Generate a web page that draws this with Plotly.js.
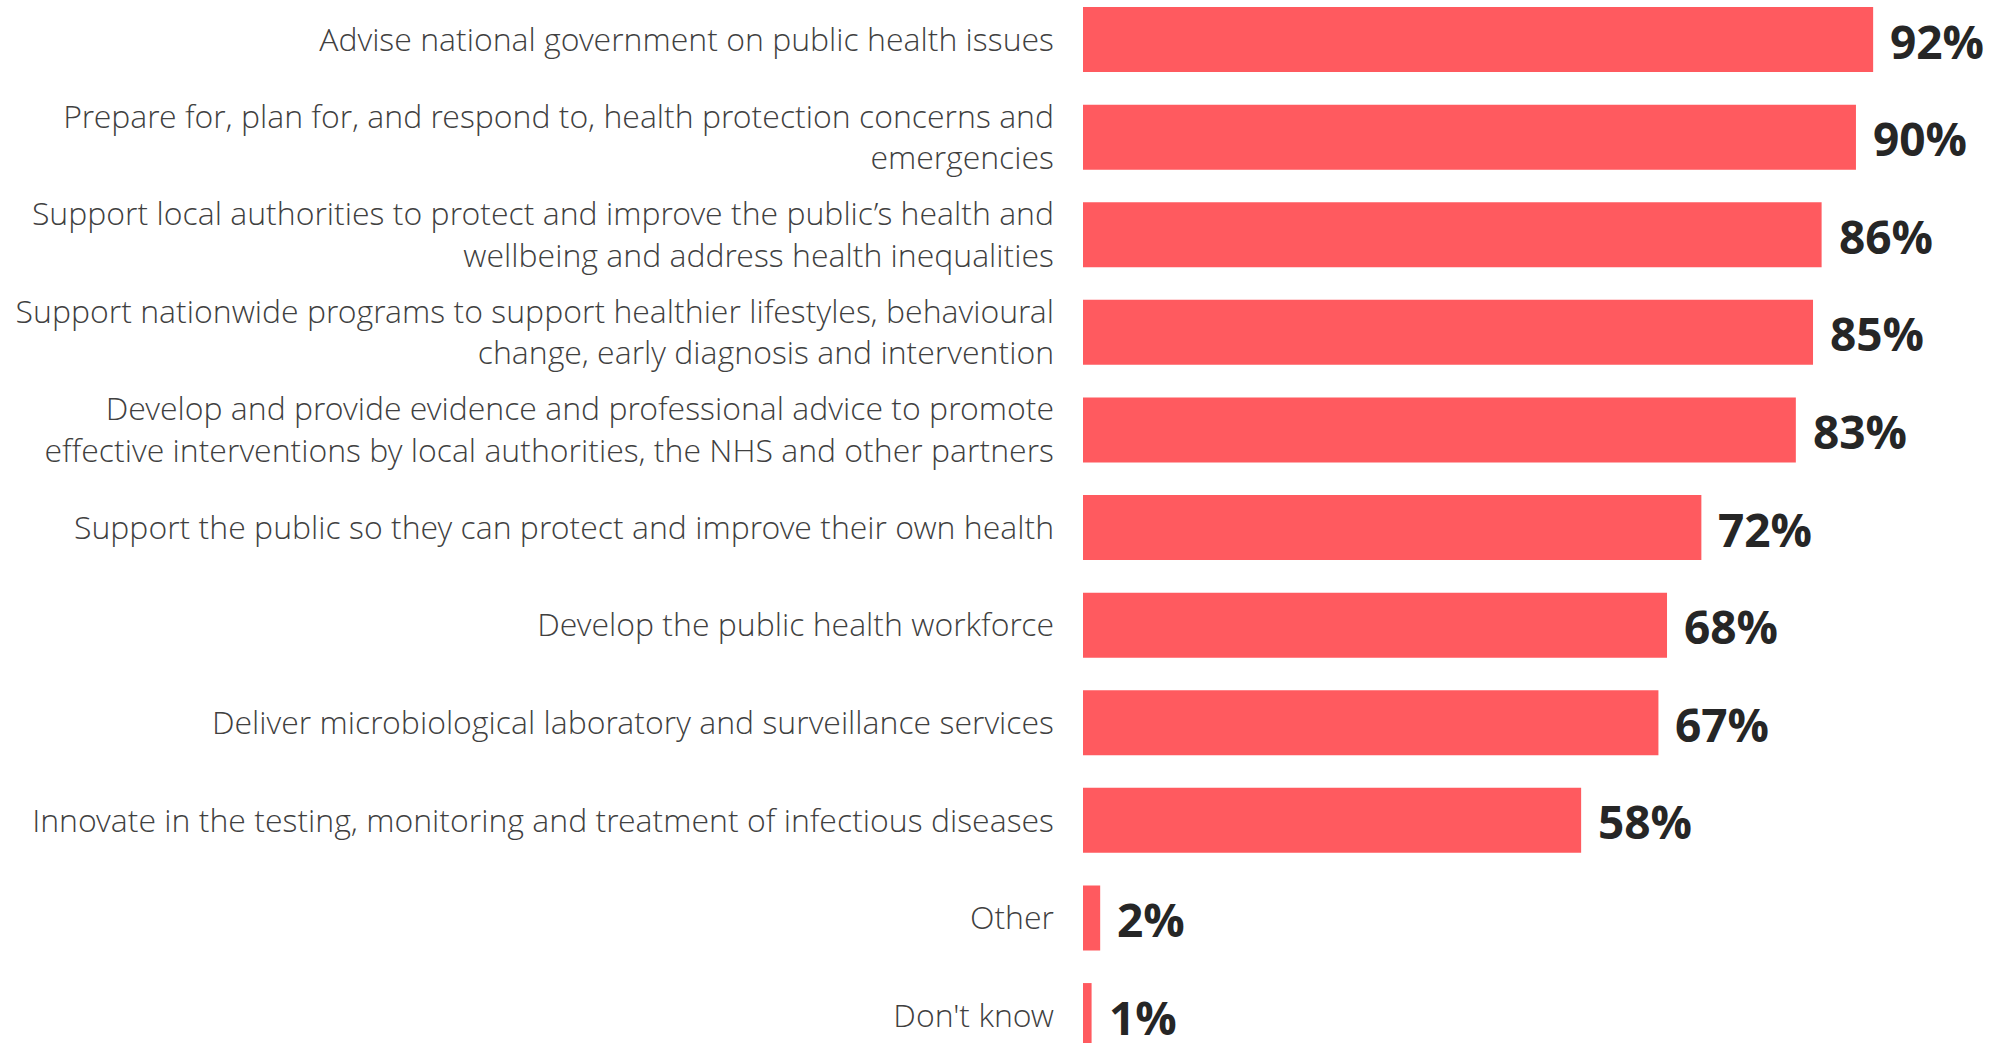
<!DOCTYPE html>
<html>
<head>
<meta charset="utf-8">
<script src="https://cdn.plot.ly/plotly-3.0.1.min.js"></script>
<style>
html,body{margin:0;padding:0;background:#fff;}
#chart{width:2009px;height:1043px;}
</style>
</head>
<body>
<div id="chart"></div>
<script>
const categories = [
  "Advise national government on public health issues",
  "Prepare for, plan for, and respond to, health protection concerns and<br>emergencies",
  "Support local authorities to protect and improve the public’s health and<br>wellbeing and address health inequalities",
  "Support nationwide programs to support healthier lifestyles, behavioural<br>change, early diagnosis and intervention",
  "Develop and provide evidence and professional advice to promote<br>effective interventions by local authorities, the NHS and other partners",
  "Support the public so they can protect and improve their own health",
  "Develop the public health workforce",
  "Deliver microbiological laboratory and surveillance services",
  "Innovate in the testing, monitoring and treatment of infectious diseases",
  "Other",
  "Don't know"
];
const values = [92, 90, 86, 85, 83, 72, 68, 67, 58, 2, 1];
const valueLabels = values.map(v => v + "%");

const trace = {
  type: "bar",
  orientation: "h",
  x: values,
  y: categories,
  marker: { color: "#FF5A5F" },
  hoverinfo: "skip"
};

const annotations = values.map((v, i) => ({
  x: v,
  y: categories[i],
  xref: "x",
  yref: "y",
  text: valueLabels[i],
  showarrow: false,
  xanchor: "left",
  yanchor: "middle",
  xshift: 15,
  yshift: -1,
  font: { family: "Open Sans", size: 46, weight: 700, color: "#262626" }
}));

const layout = {
  width: 2009,
  height: 1043,
  margin: { l: 1083, r: 62, t: 0, b: 0, pad: 0 },
  paper_bgcolor: "#ffffff",
  plot_bgcolor: "#ffffff",
  showlegend: false,
  bargap: 0.334,
  xaxis: {
    range: [0, 100.6],
    visible: false,
    showgrid: false,
    zeroline: false,
    fixedrange: true
  },
  yaxis: {
    type: "category",
    range: [10.281, -0.405],
    showgrid: false,
    zeroline: false,
    showline: false,
    ticks: "",
    ticklabelstandoff: 28,
    tickfont: { family: "Open Sans Light, Open Sans", size: 32, weight: 300, color: "#404040" },
    fixedrange: true
  },
  annotations: annotations
};

Plotly.newPlot("chart", [trace], layout, { displayModeBar: false, staticPlot: true });
</script>
</body>
</html>
